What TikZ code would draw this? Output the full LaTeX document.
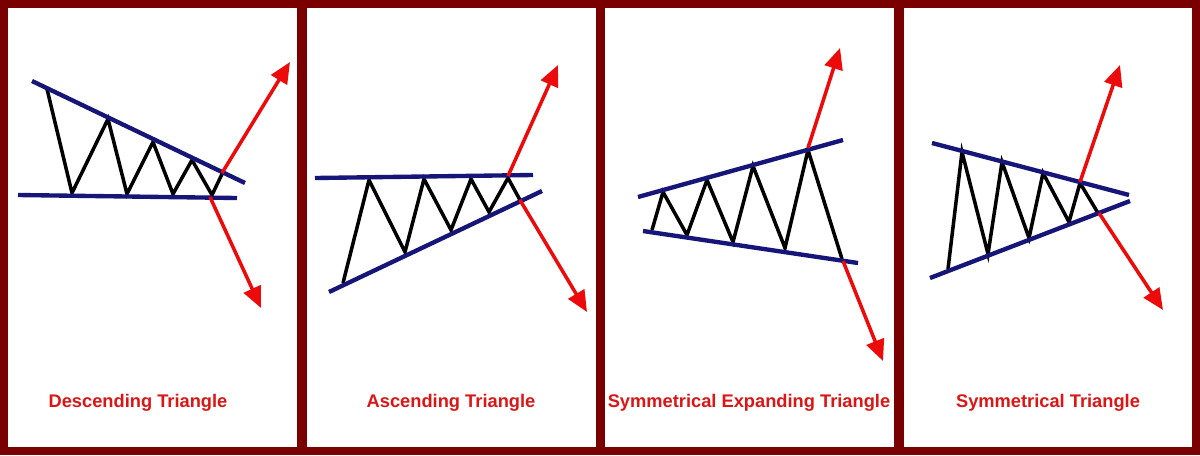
\documentclass[tikz,border=0pt]{standalone}
\usepackage{fontspec}
\setmainfont{Liberation Sans}
\usepackage{xcolor}
\usetikzlibrary{arrows.meta}

\definecolor{framered}{RGB}{122,0,0}
\definecolor{trendblue}{RGB}{22,22,120}
\definecolor{breakred}{RGB}{236,10,10}
\definecolor{titlered}{RGB}{218,22,22}

\tikzset{
  trend/.style={trendblue, line width=3.1pt},
  swing/.style={black, line width=2.5pt, line join=miter},
  breakout/.style={breakred, line width=2.5pt, -{Triangle[length=15pt,width=13pt]}},
  title/.style={titlered, font=\fontsize{13}{15}\selectfont\bfseries}
}

\begin{document}
\begin{tikzpicture}[x=0.025cm, y=-0.025cm]
  % Frame and panels
  \fill[framered] (0,0) rectangle (1200,455);
  \useasboundingbox (0,0) rectangle (1200,455);
  \foreach \xa/\xb in {8/297, 307/596, 605/894, 904/1192} {
    \fill[white] (\xa,8) rectangle (\xb,447);
  }

  % Descending triangle
  \draw[swing] (47,89) -- (72,193) -- (108,119) -- (127,194) -- (153,142)
    -- (173,194) -- (192,160) -- (212,195) -- (223,172);
  \draw[trend] (32,81) -- (245,183);
  \draw[trend] (18,195) -- (237,198);
  \coordinate (dUp) at (222,173);
  \coordinate (dDown) at (210,197);
  \draw[breakout] (dUp) -- (290,62);
  \draw[breakout] (dDown) -- (261,308);
  \node[title] (descTitle) at (138,403) {Descending Triangle};

  % Ascending triangle
  \draw[swing] (343,283) -- (369,180) -- (405,252) -- (424,179) -- (451,230)
    -- (471,179) -- (489,212) -- (508,178) -- (520,200);
  \draw[trend] (315,178) -- (533,175);
  \draw[trend] (329,292) -- (542,191);
  \coordinate (aUp) at (508,176);
  \coordinate (aDown) at (520,200);
  \draw[breakout] (aUp) -- (558,65);
  \draw[breakout] (aDown) -- (587,312);
  \node[title] (ascTitle) at (451,403) {Ascending Triangle};

  % Symmetrical expanding triangle
  \draw[swing] (652,230) -- (663,192) -- (687,235) -- (707,180) -- (733,242)
    -- (753,166) -- (785,248) -- (808,150) -- (842,259);
  \draw[trend] (638,197) -- (843,140);
  \draw[trend] (643,231) -- (858,263);
  \coordinate (eUp) at (808,148);
  \coordinate (eDown) at (843,261);
  \draw[breakout] (eUp) -- (840,48);
  \draw[breakout] (eDown) -- (883,361);
  \node[title] (expTitle) at (749,403) {Symmetrical Expanding Triangle};

  % Symmetrical triangle
  \draw[swing] (948,269) -- (962,152) -- (988,254) -- (1002,162) -- (1029,238)
    -- (1043,173) -- (1069,222) -- (1080,183) -- (1098,213);
  \draw[trend] (932,143) -- (1129,195);
  \draw[trend] (930,278) -- (1130,201);
  \coordinate (sUp) at (1080,182);
  \coordinate (sDown) at (1099,213);
  \draw[breakout] (sUp) -- (1120,65);
  \draw[breakout] (sDown) -- (1163,310);
  \node[title] (symTitle) at (1048,403) {Symmetrical Triangle};
\end{tikzpicture}
\end{document}
